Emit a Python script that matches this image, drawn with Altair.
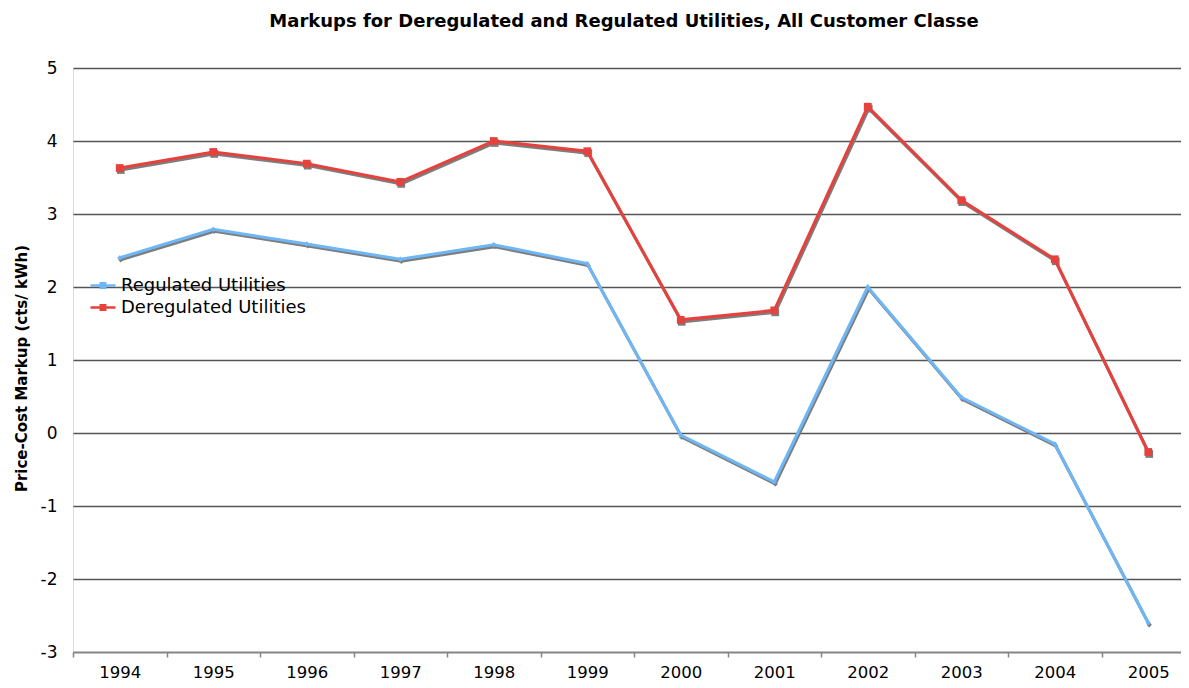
import altair as alt
import pandas as pd

years = [1994, 1995, 1996, 1997, 1998, 1999, 2000, 2001, 2002, 2003, 2004, 2005]
regulated = [2.40, 2.79, 2.59, 2.38, 2.58, 2.32, -0.03, -0.67, 2.00, 0.49, -0.15, -2.60]
deregulated = [3.63, 3.85, 3.69, 3.44, 4.00, 3.86, 1.55, 1.68, 4.47, 3.19, 2.38, -0.26]
series_names = ["Regulated Utilities", "Deregulated Utilities"]
series_colors = ["#6FB6F6", "#E6413C"]
y_ticks = [-3, -2, -1, 0, 1, 2, 3, 4, 5]
x_boundaries = [1993.5, 1994.5, 1995.5, 1996.5, 1997.5, 1998.5, 1999.5, 2000.5, 2001.5, 2002.5, 2003.5, 2004.5]

rows = []
for name, vals in zip(series_names, [regulated, deregulated]):
    for yr, v in zip(years, vals):
        rows.append({"year": yr, "value": v, "series": name})
df = pd.DataFrame(rows)

FONT = "DejaVu Sans"
SHADOW = "#7d7d7d"
PLOT_W = 1108
STEP = 93.5  # pixel width of one year slot; the last slot runs past the page edge

x_enc = alt.X(
    "year:Q",
    scale=alt.Scale(domain=[1993.5, 1993.5 + PLOT_W / STEP], nice=False, zero=False),
    axis=alt.Axis(
        title=None, values=x_boundaries, labelExpr="toString(datum.value + 0.5)",
        labelOffset=STEP / 2, labelFlush=False, labelOverlap=False, labelBound=False,
        labelAngle=0, labelFont=FONT, labelFontSize=16.5, labelColor="#000000",
        domainColor="#868686", domainWidth=1.5, tickColor="#868686", tickWidth=1.5,
        tickSize=5, labelPadding=7, grid=False,
    ),
)
y_enc = alt.Y(
    "value:Q",
    scale=alt.Scale(domain=[-3, 5], nice=False, zero=False),
    axis=alt.Axis(
        values=y_ticks, labelExpr="toString(datum.value)", title="Price-Cost Markup (cts/ kWh)",
        titleFont=FONT, titleFontSize=15, titleFontWeight="bold", titleColor="#000000",
        titleX=-44, titleY=300,
        labelFont=FONT, labelFontSize=17, labelColor="#000000", labelPadding=16,
        ticks=False, domain=False, grid=True, gridColor="#555555", gridWidth=1.4,
    ),
)

base = alt.Chart(df)

shadow_lines = base.mark_line(color=SHADOW, strokeWidth=3, xOffset=1, yOffset=2).encode(
    x=x_enc, y=y_enc, detail="series:N"
)

legend_path = "M-1.25,0H1.25M-0.22,-0.22H0.22V0.22H-0.22Z"
lines = base.mark_line(strokeWidth=3).encode(
    x=x_enc,
    y=y_enc,
    color=alt.Color(
        "series:N",
        scale=alt.Scale(domain=series_names, range=series_colors),
        legend=alt.Legend(
            title=None, orient="none", legendX=18.5, legendY=206, padding=0,
            symbolType=legend_path, symbolSize=400, symbolStrokeWidth=2.5,
            labelFont=FONT, labelFontSize=18, labelColor="#000000", labelOffset=6.5,
            labelLimit=400, rowPadding=1,
        ),
    ),
    order="year:Q",
)

shapes = ["diamond", "square"]
sizes = [28, 60]
layers = [shadow_lines]
for name, shp, sz in zip(series_names, shapes, sizes):
    layers.append(
        base.transform_filter(alt.datum.series == name)
        .mark_point(shape=shp, size=sz, filled=True, color=SHADOW, opacity=1, xOffset=1, yOffset=2)
        .encode(x=x_enc, y=y_enc)
    )
layers.append(lines)
for name, col, shp, sz in zip(series_names, series_colors, shapes, sizes):
    layers.append(
        base.transform_filter(alt.datum.series == name)
        .mark_point(shape=shp, size=sz, filled=True, color=col, opacity=1)
        .encode(x=x_enc, y=y_enc)
    )

chart = alt.layer(*layers).properties(
    width=PLOT_W,
    height=584,
    autosize=alt.AutoSizeParams(type="none"),
    padding={"left": 65, "top": 60, "right": 0, "bottom": 28},
    title=alt.Title(
        "Markups for Deregulated and Regulated Utilities, All Customer Classe",
        font=FONT, fontSize=18, fontWeight="bold", color="#000000",
        anchor="middle", frame="group", offset=28, dx=-3,
    ),
).configure_view(stroke=None).configure(background="white")

chart.save("out.html", embed_options={"renderer": "svg", "actions": False})
